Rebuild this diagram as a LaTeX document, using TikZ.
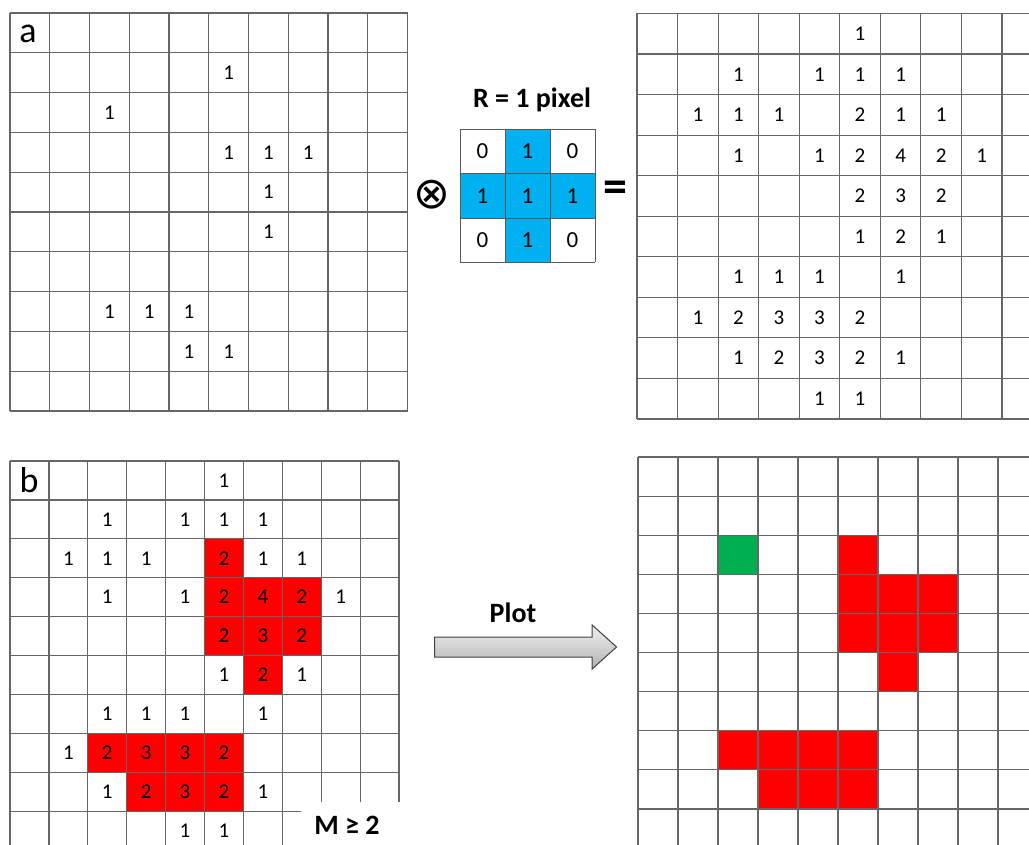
\documentclass[tikz,border=0pt]{standalone}
\usepackage{fontspec}
\setmainfont{Carlito}
\newfontfamily\symbfont{DejaVu Sans}
\usetikzlibrary{shapes.arrows}
\definecolor{kernblue}{HTML}{00B0F0}
\definecolor{hotred}{HTML}{FF0000}
\definecolor{seedgreen}{HTML}{00B050}
\newcommand{\rawmap}{1/5,2/2,3/5,3/6,3/7,4/6,5/6,7/2,7/3,7/4,8/4,8/5}
\newcommand{\summap}{0/5/1,1/2/1,1/4/1,1/5/1,1/6/1,2/1/1,2/2/1,2/3/1,2/5/2,2/6/1,2/7/1,3/2/1,3/4/1,3/5/2,3/6/4,3/7/2,3/8/1,4/5/2,4/6/3,4/7/2,5/5/1,5/6/2,5/7/1,6/2/1,6/3/1,6/4/1,6/6/1,7/1/1,7/2/2,7/3/3,7/4/3,7/5/2,8/2/1,8/3/2,8/4/3,8/5/2,8/6/1,9/4/1,9/5/1}
\newcommand{\kernmap}{0/0/0,0/1/1,0/2/0,1/0/1,1/1/1,1/2/1,2/0/0,2/1/1,2/2/0}

\begin{document}
\begin{tikzpicture}[x=1pt,y=-1pt,
  gridln/.style={draw=black!60,line width=1.2pt},
  kernln/.style={draw=black!65,line width=.9pt},
  num/.style={font=\fontsize{21}{21}\selectfont,inner sep=0pt},
  knum/.style={font=\fontsize{23}{23}\selectfont,inner sep=0pt},
  tag/.style={font=\fontsize{36}{36}\selectfont,anchor=base,inner sep=0pt},
  lbl/.style={font=\fontsize{28}{28}\selectfont\bfseries,inner sep=0pt},
  hot/.style={fill=hotred},
  seed/.style={fill=seedgreen},
  plotarrow/.style={single arrow,draw=black!75,line width=1pt,top color=black!6,bottom color=black!30,
    minimum height=182pt,inner xsep=0pt,inner ysep=9.5pt,single arrow head extend=12pt,single arrow tip angle=84}]
\useasboundingbox (0,0) rectangle (1029,845);
\clip (0,0) rectangle (1029,845);

\begin{scope}[shift={(10,13)},x=39.75pt,y=-39.8pt]
\draw[gridln] \foreach \i in {0,...,10} {(\i,0) -- (\i,10) (0,\i) -- (10,\i)};
\foreach \r/\c in \rawmap \node[num] (a-\r-\c) at (\c+.5,\r+.5) {1};
\end{scope}
\node[tag] (taga) at (28,43) {a};

\node[lbl] (radius) at (532,100) {R = 1 pixel};
\begin{scope}[shift={(460,129)},x=45pt,y=-44.5pt]
\foreach \r/\c/\v in \kernmap {\ifnum\v>0 \fill[kernblue] (\c,\r) rectangle ++(1,1);\fi}
\draw[kernln] \foreach \i in {0,...,3} {(\i,0) -- (\i,3) (0,\i) -- (3,\i)};
\foreach \r/\c/\v in \kernmap \node[knum] (k-\r-\c) at (\c+.5,\r+.5) {\v};
\end{scope}
\node[inner sep=0pt,font=\fontsize{44}{44}\selectfont\symbfont] (conv) at (432,195) {⊗};
\node[inner sep=0pt,font=\fontsize{48}{48}\selectfont\bfseries] (equals) at (615,192) {=};

\begin{scope}[shift={(637,13.5)},x=40.55pt,y=-40.55pt]
\draw[gridln] \foreach \i in {0,...,10} {(\i,0) -- (\i,10) (0,\i) -- (10,\i)};
\foreach \r/\c/\v in \summap \node[num] (s-\r-\c) at (\c+.5,\r+.5) {\v};
\end{scope}

\begin{scope}[shift={(10,461)},x=38.9pt,y=-38.9pt]
\foreach \r/\c/\v in \summap {\ifnum\v>1 \fill[hot] (\c,\r) rectangle ++(1,1);\fi}
\draw[gridln] \foreach \i in {0,...,10} {(\i,0) -- (\i,10) (0,\i) -- (10,\i)};
\foreach \r/\c/\v in \summap \node[num] (b-\r-\c) at (\c+.5,\r+.5) {\v};
\end{scope}
\node[tag] (tagb) at (29,492) {b};
\fill[white] (301,802) rectangle (401,846);
\node[lbl] (thresh) at (347,825) {M ≥ 2};

\node[plotarrow] (plot) at (520,647) {};
\node[lbl] (plotlbl) at (513,613) {Plot};

\begin{scope}[shift={(638,457)},x=40pt,y=-39.1pt]
\fill[seed] (2,2) rectangle ++(1,1);
\foreach \r/\c/\v in \summap {\ifnum\v>1 \fill[hot] (\c,\r) rectangle ++(1,1);\fi}
\draw[gridln] \foreach \i in {0,...,10} {(\i,0) -- (\i,10) (0,\i) -- (10,\i)};
\end{scope}
\end{tikzpicture}
\end{document}
